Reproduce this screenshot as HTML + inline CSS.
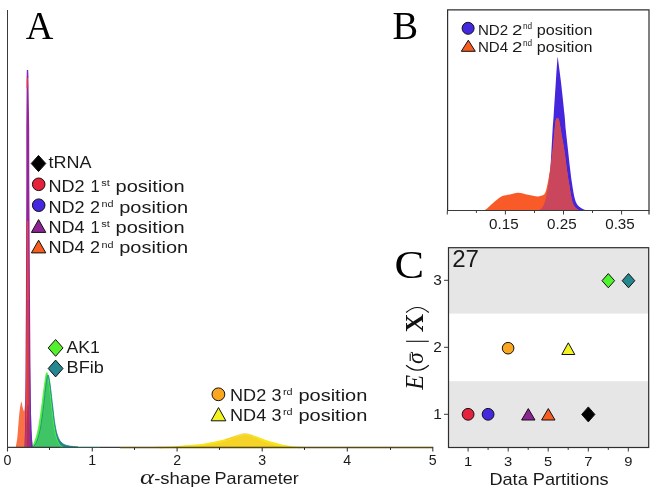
<!DOCTYPE html>
<html><head><meta charset="utf-8"><title>Figure</title>
<style>
html,body{margin:0;padding:0;background:#fff;}
body{width:654px;height:496px;overflow:hidden;font-family:"Liberation Sans",sans-serif;}
svg{display:block;}
</style></head><body>
<svg width="654" height="496" viewBox="0 0 654 496">
<defs><filter id="nofx" x="0" y="0" width="654" height="496" filterUnits="userSpaceOnUse" color-interpolation-filters="sRGB"><feOffset dx="0" dy="0"/></filter></defs>
<rect width="654" height="496" fill="#fff"/>
<g style="filter:url(#nofx)">
<path d="M150.00,447.00 C154.17,446.87 167.50,446.60 175.00,446.20 C182.50,445.80 189.83,445.10 195.00,444.60 C200.17,444.10 201.50,443.97 206.00,443.20 C210.50,442.43 217.33,441.10 222.00,440.00 C226.67,438.90 230.17,437.60 234.00,436.60 C237.83,435.60 241.33,434.07 245.00,434.00 C248.67,433.93 252.50,435.20 256.00,436.20 C259.50,437.20 262.00,438.70 266.00,440.00 C270.00,441.30 275.67,442.97 280.00,444.00 C284.33,445.03 287.67,445.70 292.00,446.20 C296.33,446.70 303.67,446.87 306.00,447.00 L306.00,447.5 L150.00,447.5 Z" fill="#f6e41c" fill-opacity="1" stroke="none" stroke-width="1"/>
<path d="M160.00,448.30 C164.17,448.18 178.33,447.93 185.00,447.60 C191.67,447.27 195.50,446.85 200.00,446.30 C204.50,445.75 207.67,445.20 212.00,444.30 C216.33,443.40 221.83,442.13 226.00,440.90 C230.17,439.67 233.83,437.90 237.00,436.90 C240.17,435.90 242.33,434.90 245.00,434.90 C247.67,434.90 250.17,435.90 253.00,436.90 C255.83,437.90 258.50,439.57 262.00,440.90 C265.50,442.23 270.00,443.83 274.00,444.90 C278.00,445.97 281.67,446.73 286.00,447.30 C290.33,447.87 297.67,448.13 300.00,448.30 L300.00,447.5 L160.00,447.5 Z" fill="#f5d328" fill-opacity="1" stroke="none" stroke-width="1"/>
<path d="M226.00,439.60 C227.83,438.93 233.83,436.60 237.00,435.60 C240.17,434.60 242.33,433.60 245.00,433.60 C247.67,433.60 251.67,435.27 253.00,435.60" fill="none" fill-opacity="1" stroke="#f7b62e" stroke-width="0.6"/>
<path d="M15.80,447.00 C16.08,445.17 16.93,441.33 17.50,436.00 C18.07,430.67 18.58,420.67 19.20,415.00 C19.82,409.33 20.63,403.33 21.20,402.00 C21.77,400.67 22.10,405.50 22.60,407.00 C23.10,408.50 23.75,412.17 24.20,411.00 C24.65,409.83 25.00,405.17 25.30,400.00 C25.60,394.83 25.88,383.33 26.00,380.00 L26.00,447.5 L15.80,447.5 Z" fill="#fa6a3a" fill-opacity="0.95" stroke="none" stroke-width="1"/>
<path d="M33.50,447.00 C34.08,446.00 35.83,444.17 37.00,441.00 C38.17,437.83 39.42,433.67 40.50,428.00 C41.58,422.33 42.58,414.17 43.50,407.00 C44.42,399.83 45.25,390.33 46.00,385.00 C46.75,379.67 47.33,375.17 48.00,375.00 C48.67,374.83 49.25,379.00 50.00,384.00 C50.75,389.00 51.67,398.17 52.50,405.00 C53.33,411.83 54.08,419.67 55.00,425.00 C55.92,430.33 56.83,434.00 58.00,437.00 C59.17,440.00 60.33,441.53 62.00,443.00 C63.67,444.47 65.33,445.13 68.00,445.80 C70.67,446.47 76.33,446.80 78.00,447.00 L78.00,447.5 L33.50,447.5 Z" fill="#25878f" fill-opacity="1" stroke="none" stroke-width="1"/>
<path d="M31.80,447.00 C32.33,446.00 33.88,444.17 35.00,441.00 C36.12,437.83 37.42,433.50 38.50,428.00 C39.58,422.50 40.50,415.17 41.50,408.00 C42.50,400.83 43.62,390.90 44.50,385.00 C45.38,379.10 46.05,372.77 46.80,372.60 C47.55,372.43 48.22,378.60 49.00,384.00 C49.78,389.40 50.67,398.00 51.50,405.00 C52.33,412.00 53.17,420.50 54.00,426.00 C54.83,431.50 55.58,434.92 56.50,438.00 C57.42,441.08 58.42,443.00 59.50,444.50 C60.58,446.00 62.42,446.58 63.00,447.00 L63.00,447.5 L31.80,447.5 Z" fill="#4bf03a" fill-opacity="1" stroke="none" stroke-width="1"/>
<path d="M34.40,447.00 C34.92,446.00 36.40,444.17 37.50,441.00 C38.60,437.83 39.92,433.67 41.00,428.00 C42.08,422.33 43.12,414.00 44.00,407.00 C44.88,400.00 45.70,391.00 46.30,386.00 C46.90,381.00 47.12,377.33 47.60,377.00 C48.08,376.67 48.52,379.33 49.20,384.00 C49.88,388.67 50.87,398.00 51.70,405.00 C52.53,412.00 53.37,420.50 54.20,426.00 C55.03,431.50 55.80,434.92 56.70,438.00 C57.60,441.08 58.55,443.00 59.60,444.50 C60.65,446.00 62.43,446.58 63.00,447.00 L63.00,447.5 L34.40,447.5 Z" fill="#3fc566" fill-opacity="1" stroke="none" stroke-width="1"/>
<path d="M31.80,447.00 C32.33,446.00 33.88,444.17 35.00,441.00 C36.12,437.83 37.42,433.50 38.50,428.00 C39.58,422.50 40.50,415.17 41.50,408.00 C42.50,400.83 43.62,390.90 44.50,385.00 C45.38,379.10 46.05,372.77 46.80,372.60 C47.55,372.43 48.22,378.60 49.00,384.00 C49.78,389.40 50.67,398.00 51.50,405.00 C52.33,412.00 53.17,420.50 54.00,426.00 C54.83,431.50 55.58,434.92 56.50,438.00 C57.42,441.08 58.42,443.00 59.50,444.50 C60.58,446.00 62.42,446.58 63.00,447.00" fill="none" fill-opacity="1" stroke="#4cf23a" stroke-width="0.9"/>
<path d="M33.50,447.00 C34.08,446.00 35.83,444.17 37.00,441.00 C38.17,437.83 39.42,433.67 40.50,428.00 C41.58,422.33 42.58,414.17 43.50,407.00 C44.42,399.83 45.25,390.33 46.00,385.00 C46.75,379.67 47.33,375.17 48.00,375.00 C48.67,374.83 49.25,379.00 50.00,384.00 C50.75,389.00 51.67,398.17 52.50,405.00 C53.33,411.83 54.08,419.67 55.00,425.00 C55.92,430.33 56.83,434.00 58.00,437.00 C59.17,440.00 60.33,441.53 62.00,443.00 C63.67,444.47 65.33,445.13 68.00,445.80 C70.67,446.47 76.33,446.80 78.00,447.00" fill="none" fill-opacity="1" stroke="#21868f" stroke-width="0.9"/>
<polygon points="24.4,447.5 25.0,430 25.3,400 25.9,300 26.3,180 26.3,128 26.7,80 26.9,70 28.1,70 28.4,80 29.2,128 29.3,180 30.0,300 30.7,400 31.4,430 32.6,447.5" fill="#94249a"/>
<polygon points="26.9,70 28.1,70 28.3,78 26.8,78" fill="#7a2cc0"/>
<polygon points="26.7,78 28.0,78 28.2,88 26.6,88" fill="#e0305a"/>
<polygon points="29.4,330 30.7,400 31.4,430 32.6,447.5 31.2,447.5 30.4,430 29.8,400" fill="#5a30c8"/>
<polygon points="25.2,447.5 25.7,430 25.9,400 26.0,365 26.6,300 26.9,221 28.2,221 28.9,300 29.3,365 29.5,400 29.7,430 29.4,447.5" fill="#e4443a"/>
<line x1="28.0" y1="300" x2="28.3" y2="447.5" stroke="#b03868" stroke-width="0.8"/>
<polygon points="26.4,447.5 26.6,425 27.6,405 28.6,405 29.7,425 30.4,447.5" fill="#a8306a"/>
<line x1="7.5" y1="10" x2="7.5" y2="448" stroke="#3a3a3a" stroke-width="1"/>
<line x1="7" y1="447.4" x2="433.3" y2="447.4" stroke="#3a3a3a" stroke-width="1.25"/>
<line x1="120" y1="447.5" x2="433" y2="447.5" stroke="#5a4a08" stroke-width="1.25"/>
<line x1="60" y1="447.5" x2="100" y2="447.5" stroke="#2a5a50" stroke-width="1"/>
<line x1="7.5" y1="447.5" x2="7.5" y2="451.5" stroke="#3a3a3a" stroke-width="1.1"/>
<line x1="92.3" y1="447.5" x2="92.3" y2="451.5" stroke="#3a3a3a" stroke-width="1.1"/>
<line x1="177.1" y1="447.5" x2="177.1" y2="451.5" stroke="#3a3a3a" stroke-width="1.1"/>
<line x1="262.2" y1="447.5" x2="262.2" y2="451.5" stroke="#3a3a3a" stroke-width="1.1"/>
<line x1="347.3" y1="447.5" x2="347.3" y2="451.5" stroke="#3a3a3a" stroke-width="1.1"/>
<line x1="432.8" y1="447.5" x2="432.8" y2="451.5" stroke="#3a3a3a" stroke-width="1.1"/>
<line x1="49.5" y1="447.5" x2="49.5" y2="449.9" stroke="#222" stroke-width="1"/>
<line x1="134.5" y1="447.5" x2="134.5" y2="449.9" stroke="#222" stroke-width="1"/>
<line x1="219.5" y1="447.5" x2="219.5" y2="449.9" stroke="#222" stroke-width="1"/>
<line x1="304.5" y1="447.5" x2="304.5" y2="449.9" stroke="#222" stroke-width="1"/>
<line x1="390.5" y1="447.5" x2="390.5" y2="449.9" stroke="#222" stroke-width="1"/>
<text x="7.5" y="465.3" font-family="Liberation Sans" font-size="13.8" text-anchor="middle" fill="#1a1a1a" textLength="7.9" lengthAdjust="spacingAndGlyphs" >0</text>
<text x="92.3" y="465.3" font-family="Liberation Sans" font-size="13.8" text-anchor="middle" fill="#1a1a1a" textLength="7.9" lengthAdjust="spacingAndGlyphs" >1</text>
<text x="177.1" y="465.3" font-family="Liberation Sans" font-size="13.8" text-anchor="middle" fill="#1a1a1a" textLength="7.9" lengthAdjust="spacingAndGlyphs" >2</text>
<text x="262.2" y="465.3" font-family="Liberation Sans" font-size="13.8" text-anchor="middle" fill="#1a1a1a" textLength="7.9" lengthAdjust="spacingAndGlyphs" >3</text>
<text x="347.3" y="465.3" font-family="Liberation Sans" font-size="13.8" text-anchor="middle" fill="#1a1a1a" textLength="7.9" lengthAdjust="spacingAndGlyphs" >4</text>
<text x="432.8" y="465.3" font-family="Liberation Sans" font-size="13.8" text-anchor="middle" fill="#1a1a1a" textLength="7.9" lengthAdjust="spacingAndGlyphs" >5</text>
<text x="140" y="484.4" font-family="Liberation Serif" font-size="21" text-anchor="start" fill="#1a1a1a" textLength="14" lengthAdjust="spacingAndGlyphs" font-style="italic">α</text>
<text x="154.2" y="484.4" font-family="Liberation Sans" font-size="16.5" text-anchor="start" fill="#1a1a1a" textLength="56.5" lengthAdjust="spacingAndGlyphs" >-shape</text>
<text x="214.6" y="484.4" font-family="Liberation Sans" font-size="16.5" text-anchor="start" fill="#1a1a1a" textLength="84.2" lengthAdjust="spacingAndGlyphs" >Parameter</text>
<text x="25.8" y="39" font-family="Liberation Serif" font-size="40.5" text-anchor="start" fill="#000" textLength="27.6" lengthAdjust="spacingAndGlyphs" >A</text>
<text x="392.6" y="38.7" font-family="Liberation Serif" font-size="39.8" text-anchor="start" fill="#000" textLength="25.6" lengthAdjust="spacingAndGlyphs" >B</text>
<text x="394.6" y="277.6" font-family="Liberation Serif" font-size="40" text-anchor="start" fill="#000" textLength="29.6" lengthAdjust="spacingAndGlyphs" >C</text>
<polygon points="31.2,163.5 38.5,155.4 45.8,163.5 38.5,171.6" fill="#000" stroke="#111" stroke-width="1"/>
<text x="48.6" y="167.7" font-family="Liberation Sans" font-size="16.2" text-anchor="start" fill="#1a1a1a" textLength="43" lengthAdjust="spacingAndGlyphs" >tRNA</text>
<circle cx="38.7" cy="184.3" r="6.3" fill="#e6213c" stroke="#111" stroke-width="1"/>
<circle cx="38.7" cy="205.2" r="6.3" fill="#4428e0" stroke="#111" stroke-width="1"/>
<polygon points="31.400000000000002,232.4 38.6,219.6 45.800000000000004,232.4" fill="#8e2494" stroke="#111" stroke-width="1"/>
<polygon points="31.400000000000002,252.9 38.6,240.2 45.800000000000004,252.9" fill="#f85c1e" stroke="#111" stroke-width="1"/>
<text x="48.4" y="192.3" font-family="Liberation Sans" font-size="16.2" text-anchor="start" fill="#1a1a1a" textLength="36.2" lengthAdjust="spacingAndGlyphs" >ND2</text>
<text x="90.6" y="192.3" font-family="Liberation Sans" font-size="16.2" text-anchor="start" fill="#1a1a1a" textLength="9.2" lengthAdjust="spacingAndGlyphs" >1</text>
<text x="101.2" y="186.4" font-family="Liberation Sans" font-size="9.6" text-anchor="start" fill="#1a1a1a" textLength="8.6" lengthAdjust="spacingAndGlyphs" >st</text>
<text x="115.6" y="192.3" font-family="Liberation Sans" font-size="16.2" text-anchor="start" fill="#1a1a1a" textLength="69" lengthAdjust="spacingAndGlyphs" >position</text>
<text x="48.4" y="212.5" font-family="Liberation Sans" font-size="16.2" text-anchor="start" fill="#1a1a1a" textLength="36.2" lengthAdjust="spacingAndGlyphs" >ND2</text>
<text x="90.0" y="212.5" font-family="Liberation Sans" font-size="16.2" text-anchor="start" fill="#1a1a1a" textLength="10" lengthAdjust="spacingAndGlyphs" >2</text>
<text x="101.4" y="206.6" font-family="Liberation Sans" font-size="9.6" text-anchor="start" fill="#1a1a1a" textLength="12" lengthAdjust="spacingAndGlyphs" >nd</text>
<text x="119.2" y="212.5" font-family="Liberation Sans" font-size="16.2" text-anchor="start" fill="#1a1a1a" textLength="69" lengthAdjust="spacingAndGlyphs" >position</text>
<text x="48.4" y="232.9" font-family="Liberation Sans" font-size="16.2" text-anchor="start" fill="#1a1a1a" textLength="36.2" lengthAdjust="spacingAndGlyphs" >ND4</text>
<text x="90.6" y="232.9" font-family="Liberation Sans" font-size="16.2" text-anchor="start" fill="#1a1a1a" textLength="9.2" lengthAdjust="spacingAndGlyphs" >1</text>
<text x="101.2" y="227.0" font-family="Liberation Sans" font-size="9.6" text-anchor="start" fill="#1a1a1a" textLength="8.6" lengthAdjust="spacingAndGlyphs" >st</text>
<text x="115.6" y="232.9" font-family="Liberation Sans" font-size="16.2" text-anchor="start" fill="#1a1a1a" textLength="69" lengthAdjust="spacingAndGlyphs" >position</text>
<text x="48.4" y="253.4" font-family="Liberation Sans" font-size="16.2" text-anchor="start" fill="#1a1a1a" textLength="36.2" lengthAdjust="spacingAndGlyphs" >ND4</text>
<text x="90.0" y="253.4" font-family="Liberation Sans" font-size="16.2" text-anchor="start" fill="#1a1a1a" textLength="10" lengthAdjust="spacingAndGlyphs" >2</text>
<text x="101.4" y="247.5" font-family="Liberation Sans" font-size="9.6" text-anchor="start" fill="#1a1a1a" textLength="12" lengthAdjust="spacingAndGlyphs" >nd</text>
<text x="119.2" y="253.4" font-family="Liberation Sans" font-size="16.2" text-anchor="start" fill="#1a1a1a" textLength="69" lengthAdjust="spacingAndGlyphs" >position</text>
<polygon points="48.2,347.9 55.6,339.5 63.0,347.9 55.6,356.29999999999995" fill="#55f02d" stroke="#111" stroke-width="1"/>
<polygon points="48.2,368.5 55.6,360.1 63.0,368.5 55.6,376.9" fill="#25878f" stroke="#111" stroke-width="1"/>
<text x="66.4" y="353" font-family="Liberation Sans" font-size="16.6" text-anchor="start" fill="#1a1a1a" textLength="33.4" lengthAdjust="spacingAndGlyphs" >AK1</text>
<text x="66.6" y="373.4" font-family="Liberation Sans" font-size="16.6" text-anchor="start" fill="#1a1a1a" textLength="37.2" lengthAdjust="spacingAndGlyphs" >BFib</text>
<circle cx="218.4" cy="394.3" r="6.4" fill="#faa61e" stroke="#111" stroke-width="1"/>
<polygon points="211.1,420.8 218.5,407.6 225.9,420.8" fill="#f3f321" stroke="#111" stroke-width="1"/>
<text x="230" y="401.3" font-family="Liberation Sans" font-size="16.2" text-anchor="start" fill="#1a1a1a" textLength="36.2" lengthAdjust="spacingAndGlyphs" >ND2</text>
<text x="271.6" y="401.3" font-family="Liberation Sans" font-size="16.2" text-anchor="start" fill="#1a1a1a" textLength="10" lengthAdjust="spacingAndGlyphs" >3</text>
<text x="283" y="395.40000000000003" font-family="Liberation Sans" font-size="9.6" text-anchor="start" fill="#1a1a1a" textLength="9.6" lengthAdjust="spacingAndGlyphs" >rd</text>
<text x="298.4" y="401.3" font-family="Liberation Sans" font-size="16.2" text-anchor="start" fill="#1a1a1a" textLength="69" lengthAdjust="spacingAndGlyphs" >position</text>
<text x="230" y="421.2" font-family="Liberation Sans" font-size="16.2" text-anchor="start" fill="#1a1a1a" textLength="36.2" lengthAdjust="spacingAndGlyphs" >ND4</text>
<text x="271.6" y="421.2" font-family="Liberation Sans" font-size="16.2" text-anchor="start" fill="#1a1a1a" textLength="10" lengthAdjust="spacingAndGlyphs" >3</text>
<text x="283" y="415.3" font-family="Liberation Sans" font-size="9.6" text-anchor="start" fill="#1a1a1a" textLength="9.6" lengthAdjust="spacingAndGlyphs" >rd</text>
<text x="298.4" y="421.2" font-family="Liberation Sans" font-size="16.2" text-anchor="start" fill="#1a1a1a" textLength="69" lengthAdjust="spacingAndGlyphs" >position</text>
<path d="M538.50,210.50 C539.08,210.05 540.98,209.13 542.00,207.80 C543.02,206.47 543.83,204.63 544.60,202.50 C545.37,200.37 546.00,197.75 546.60,195.00 C547.20,192.25 547.73,189.00 548.20,186.00 C548.67,183.00 549.00,180.50 549.40,177.00 C549.80,173.50 550.23,169.83 550.60,165.00 C550.97,160.17 551.27,153.83 551.60,148.00 C551.93,142.17 552.25,135.58 552.60,130.00 C552.95,124.42 553.17,122.45 553.70,114.50 C554.23,106.55 555.25,90.72 555.80,82.30 C556.35,73.88 556.68,68.17 557.00,64.00 C557.32,59.83 557.45,57.47 557.70,57.30 C557.95,57.13 557.95,58.83 558.50,63.00 C559.05,67.17 560.00,73.72 561.00,82.30 C562.00,90.88 563.70,106.55 564.50,114.50 C565.30,122.45 565.22,124.08 565.80,130.00 C566.38,135.92 567.30,143.67 568.00,150.00 C568.70,156.33 569.33,162.45 570.00,168.00 C570.67,173.55 571.17,178.05 572.00,183.30 C572.83,188.55 573.83,195.63 575.00,199.50 C576.17,203.37 577.17,204.67 579.00,206.50 C580.83,208.33 584.83,209.83 586.00,210.50 L586.00,210.5 L538.50,210.5 Z" fill="#4526dc" fill-opacity="1" stroke="none" stroke-width="1"/>
<path d="M483.20,210.50 C483.75,210.25 485.37,209.78 486.50,209.00 C487.63,208.22 488.42,207.20 490.00,205.80 C491.58,204.40 493.95,202.22 496.00,200.60 C498.05,198.98 499.97,197.13 502.30,196.10 C504.63,195.07 507.35,194.97 510.00,194.40 C512.65,193.83 515.20,192.63 518.20,192.70 C521.20,192.77 524.80,194.18 528.00,194.80 C531.20,195.42 535.07,196.27 537.40,196.40 C539.73,196.53 540.73,196.13 542.00,195.60 C543.27,195.07 544.18,194.63 545.00,193.20 C545.82,191.77 546.35,189.20 546.90,187.00 C547.45,184.80 547.78,182.83 548.30,180.00 C548.82,177.17 549.27,175.00 550.00,170.00 C550.73,165.00 551.87,157.33 552.70,150.00 C553.53,142.67 554.42,131.17 555.00,126.00 C555.58,120.83 555.78,120.33 556.20,119.00 C556.62,117.67 557.05,117.93 557.50,118.00 C557.95,118.07 558.45,118.07 558.90,119.40 C559.35,120.73 559.68,123.07 560.20,126.00 C560.72,128.93 561.32,133.00 562.00,137.00 C562.68,141.00 563.52,144.83 564.30,150.00 C565.08,155.17 565.92,162.45 566.70,168.00 C567.48,173.55 568.17,178.13 569.00,183.30 C569.83,188.47 570.78,195.13 571.70,199.00 C572.62,202.87 573.28,204.58 574.50,206.50 C575.72,208.42 578.25,209.83 579.00,210.50 L579.00,210.5 L483.20,210.5 Z" fill="#f85a28" fill-opacity="1" stroke="none" stroke-width="1"/>
<clipPath id="cb"><path d="M538.50,210.50 C539.08,210.05 540.98,209.13 542.00,207.80 C543.02,206.47 543.83,204.63 544.60,202.50 C545.37,200.37 546.00,197.75 546.60,195.00 C547.20,192.25 547.73,189.00 548.20,186.00 C548.67,183.00 549.00,180.50 549.40,177.00 C549.80,173.50 550.23,169.83 550.60,165.00 C550.97,160.17 551.27,153.83 551.60,148.00 C551.93,142.17 552.25,135.58 552.60,130.00 C552.95,124.42 553.17,122.45 553.70,114.50 C554.23,106.55 555.25,90.72 555.80,82.30 C556.35,73.88 556.68,68.17 557.00,64.00 C557.32,59.83 557.45,57.47 557.70,57.30 C557.95,57.13 557.95,58.83 558.50,63.00 C559.05,67.17 560.00,73.72 561.00,82.30 C562.00,90.88 563.70,106.55 564.50,114.50 C565.30,122.45 565.22,124.08 565.80,130.00 C566.38,135.92 567.30,143.67 568.00,150.00 C568.70,156.33 569.33,162.45 570.00,168.00 C570.67,173.55 571.17,178.05 572.00,183.30 C572.83,188.55 573.83,195.63 575.00,199.50 C576.17,203.37 577.17,204.67 579.00,206.50 C580.83,208.33 584.83,209.83 586.00,210.50 L586.00,210.5 L538.50,210.5 Z"/></clipPath>
<g clip-path="url(#cb)">
<path d="M483.20,210.50 C483.75,210.25 485.37,209.78 486.50,209.00 C487.63,208.22 488.42,207.20 490.00,205.80 C491.58,204.40 493.95,202.22 496.00,200.60 C498.05,198.98 499.97,197.13 502.30,196.10 C504.63,195.07 507.35,194.97 510.00,194.40 C512.65,193.83 515.20,192.63 518.20,192.70 C521.20,192.77 524.80,194.18 528.00,194.80 C531.20,195.42 535.07,196.27 537.40,196.40 C539.73,196.53 540.73,196.13 542.00,195.60 C543.27,195.07 544.18,194.63 545.00,193.20 C545.82,191.77 546.35,189.20 546.90,187.00 C547.45,184.80 547.78,182.83 548.30,180.00 C548.82,177.17 549.27,175.00 550.00,170.00 C550.73,165.00 551.87,157.33 552.70,150.00 C553.53,142.67 554.42,131.17 555.00,126.00 C555.58,120.83 555.78,120.33 556.20,119.00 C556.62,117.67 557.05,117.93 557.50,118.00 C557.95,118.07 558.45,118.07 558.90,119.40 C559.35,120.73 559.68,123.07 560.20,126.00 C560.72,128.93 561.32,133.00 562.00,137.00 C562.68,141.00 563.52,144.83 564.30,150.00 C565.08,155.17 565.92,162.45 566.70,168.00 C567.48,173.55 568.17,178.13 569.00,183.30 C569.83,188.47 570.78,195.13 571.70,199.00 C572.62,202.87 573.28,204.58 574.50,206.50 C575.72,208.42 578.25,209.83 579.00,210.50 L579.00,210.5 L483.20,210.5 Z" fill="#c9465c" fill-opacity="1" stroke="none" stroke-width="1"/>
</g>
<polyline points="447.6,210.5 447.6,9.8 649,9.8 649,214.5" fill="none" stroke="#2e2e2e" stroke-width="1.2"/>
<line x1="447" y1="210.5" x2="649.5" y2="210.5" stroke="#3a3a3a" stroke-width="1"/>
<line x1="447.3" y1="210.5" x2="447.3" y2="214.5" stroke="#3a3a3a" stroke-width="1"/>
<line x1="476.4" y1="210.5" x2="476.4" y2="212.9" stroke="#3a3a3a" stroke-width="1"/>
<line x1="505.4" y1="210.5" x2="505.4" y2="214.5" stroke="#3a3a3a" stroke-width="1"/>
<line x1="534.5" y1="210.5" x2="534.5" y2="212.9" stroke="#3a3a3a" stroke-width="1"/>
<line x1="563.5" y1="210.5" x2="563.5" y2="214.5" stroke="#3a3a3a" stroke-width="1"/>
<line x1="592.5" y1="210.5" x2="592.5" y2="212.9" stroke="#3a3a3a" stroke-width="1"/>
<line x1="621.6" y1="210.5" x2="621.6" y2="214.5" stroke="#3a3a3a" stroke-width="1"/>
<text x="503.8" y="229.4" font-family="Liberation Sans" font-size="14.3" text-anchor="middle" fill="#1a1a1a" textLength="29.6" lengthAdjust="spacingAndGlyphs" >0.15</text>
<text x="561.9" y="229.4" font-family="Liberation Sans" font-size="14.3" text-anchor="middle" fill="#1a1a1a" textLength="29.6" lengthAdjust="spacingAndGlyphs" >0.25</text>
<text x="620.0" y="229.4" font-family="Liberation Sans" font-size="14.3" text-anchor="middle" fill="#1a1a1a" textLength="29.6" lengthAdjust="spacingAndGlyphs" >0.35</text>
<circle cx="468.1" cy="28.3" r="6.0" fill="#4428e0" stroke="#111" stroke-width="1"/>
<polygon points="461.3,51.3 468.3,40.2 475.3,51.3" fill="#f85c1e" stroke="#111" stroke-width="1"/>
<text x="477.9" y="34.5" font-family="Liberation Sans" font-size="13.9" text-anchor="start" fill="#1a1a1a" textLength="30.2" lengthAdjust="spacingAndGlyphs" >ND2</text>
<text x="512.0" y="34.5" font-family="Liberation Sans" font-size="13.9" text-anchor="start" fill="#1a1a1a" textLength="10.4" lengthAdjust="spacingAndGlyphs" >2</text>
<text x="523.0" y="29.0" font-family="Liberation Sans" font-size="8.4" text-anchor="start" fill="#1a1a1a" textLength="9.2" lengthAdjust="spacingAndGlyphs" >nd</text>
<text x="536.8" y="34.5" font-family="Liberation Sans" font-size="13.9" text-anchor="start" fill="#1a1a1a" textLength="55.6" lengthAdjust="spacingAndGlyphs" >position</text>
<text x="477.9" y="51.8" font-family="Liberation Sans" font-size="13.9" text-anchor="start" fill="#1a1a1a" textLength="30.2" lengthAdjust="spacingAndGlyphs" >ND4</text>
<text x="512.0" y="51.8" font-family="Liberation Sans" font-size="13.9" text-anchor="start" fill="#1a1a1a" textLength="10.4" lengthAdjust="spacingAndGlyphs" >2</text>
<text x="523.0" y="46.3" font-family="Liberation Sans" font-size="8.4" text-anchor="start" fill="#1a1a1a" textLength="9.2" lengthAdjust="spacingAndGlyphs" >nd</text>
<text x="536.8" y="51.8" font-family="Liberation Sans" font-size="13.9" text-anchor="start" fill="#1a1a1a" textLength="55.6" lengthAdjust="spacingAndGlyphs" >position</text>
<rect x="448.5" y="247.7" width="200" height="199.8" fill="#e6e6e6"/>
<rect x="448.5" y="313.6" width="200" height="67.6" fill="#fff"/>
<rect x="448.5" y="247.7" width="200.2" height="199.8" fill="none" stroke="#2e2e2e" stroke-width="1.2"/>
<line x1="468.1" y1="447.5" x2="468.1" y2="451.5" stroke="#3a3a3a" stroke-width="1"/>
<text x="468.1" y="466" font-family="Liberation Sans" font-size="13.5" text-anchor="middle" fill="#1a1a1a" textLength="8.2" lengthAdjust="spacingAndGlyphs" >1</text>
<line x1="488.1" y1="447.5" x2="488.1" y2="449.9" stroke="#3a3a3a" stroke-width="1"/>
<line x1="508.2" y1="447.5" x2="508.2" y2="451.5" stroke="#3a3a3a" stroke-width="1"/>
<text x="508.16" y="466" font-family="Liberation Sans" font-size="13.5" text-anchor="middle" fill="#1a1a1a" textLength="8.2" lengthAdjust="spacingAndGlyphs" >3</text>
<line x1="528.2" y1="447.5" x2="528.2" y2="449.9" stroke="#3a3a3a" stroke-width="1"/>
<line x1="548.2" y1="447.5" x2="548.2" y2="451.5" stroke="#3a3a3a" stroke-width="1"/>
<text x="548.22" y="466" font-family="Liberation Sans" font-size="13.5" text-anchor="middle" fill="#1a1a1a" textLength="8.2" lengthAdjust="spacingAndGlyphs" >5</text>
<line x1="568.2" y1="447.5" x2="568.2" y2="449.9" stroke="#3a3a3a" stroke-width="1"/>
<line x1="588.3" y1="447.5" x2="588.3" y2="451.5" stroke="#3a3a3a" stroke-width="1"/>
<text x="588.28" y="466" font-family="Liberation Sans" font-size="13.5" text-anchor="middle" fill="#1a1a1a" textLength="8.2" lengthAdjust="spacingAndGlyphs" >7</text>
<line x1="608.3" y1="447.5" x2="608.3" y2="449.9" stroke="#3a3a3a" stroke-width="1"/>
<line x1="628.3" y1="447.5" x2="628.3" y2="451.5" stroke="#3a3a3a" stroke-width="1"/>
<text x="628.34" y="466" font-family="Liberation Sans" font-size="13.5" text-anchor="middle" fill="#1a1a1a" textLength="8.2" lengthAdjust="spacingAndGlyphs" >9</text>
<line x1="444" y1="280.3" x2="448.5" y2="280.3" stroke="#3a3a3a" stroke-width="1"/>
<text x="441.8" y="285.3" font-family="Liberation Sans" font-size="13.8" text-anchor="end" fill="#1a1a1a" textLength="8.6" lengthAdjust="spacingAndGlyphs" >3</text>
<line x1="444" y1="347.3" x2="448.5" y2="347.3" stroke="#3a3a3a" stroke-width="1"/>
<text x="441.8" y="352.3" font-family="Liberation Sans" font-size="13.8" text-anchor="end" fill="#1a1a1a" textLength="8.6" lengthAdjust="spacingAndGlyphs" >2</text>
<line x1="444" y1="414.3" x2="448.5" y2="414.3" stroke="#3a3a3a" stroke-width="1"/>
<text x="441.8" y="419.3" font-family="Liberation Sans" font-size="13.8" text-anchor="end" fill="#1a1a1a" textLength="8.6" lengthAdjust="spacingAndGlyphs" >1</text>
<text x="452.2" y="267.4" font-family="Liberation Sans" font-size="24.1" text-anchor="start" fill="#1a1a1a" >27</text>
<text x="489.4" y="484.8" font-family="Liberation Sans" font-size="17" text-anchor="start" fill="#1a1a1a" textLength="119.2" lengthAdjust="spacingAndGlyphs" >Data Partitions</text>
<circle cx="468.1" cy="414.3" r="5.9" fill="#e6213c" stroke="#111" stroke-width="1"/>
<circle cx="488.1" cy="414.3" r="5.9" fill="#4428e0" stroke="#111" stroke-width="1"/>
<polygon points="521.5999999999999,420.0 528.3,408.6 535.0,420.0" fill="#8e2494" stroke="#111" stroke-width="1"/>
<polygon points="541.5999999999999,420.0 548.3,408.6 555.0,420.0" fill="#f85c1e" stroke="#111" stroke-width="1"/>
<polygon points="581.6999999999999,414.4 588.3,406.9 594.9,414.4 588.3,421.9" fill="#000" stroke="#111" stroke-width="1"/>
<circle cx="508.1" cy="348.2" r="5.8" fill="#faa61e" stroke="#111" stroke-width="1"/>
<polygon points="561.8,354.5 568.3,342.8 574.8,354.5" fill="#f3f321" stroke="#111" stroke-width="1"/>
<polygon points="602.0,280.7 608.3,273.59999999999997 614.5999999999999,280.7 608.3,287.8" fill="#4ff52c" stroke="#111" stroke-width="1"/>
<polygon points="622.2,280.7 628.5,273.59999999999997 634.8,280.7 628.5,287.8" fill="#25878f" stroke="#111" stroke-width="1"/>
<g transform="translate(423.3,390) rotate(-90)">
<text x="0.2" y="0" font-family="Liberation Serif" font-size="24.3" text-anchor="start" fill="#111" font-style="italic">E</text>
<path d="M24.8,-17.2 Q14.8,-5.85 24.8,5.5" fill="none" stroke="#111" stroke-width="1.15"/>
<text x="26.0" y="0" font-family="Liberation Serif" font-size="24" text-anchor="start" fill="#111" textLength="11.6" lengthAdjust="spacingAndGlyphs" font-style="italic">σ</text>
<line x1="28.9" y1="-13.1" x2="36.4" y2="-13.1" stroke="#111" stroke-width="1.1"/>
<line x1="48.7" y1="-17.2" x2="48.7" y2="5.5" stroke="#111" stroke-width="1.1"/>
<text x="57.8" y="0" font-family="Liberation Serif" font-size="24.3" text-anchor="start" fill="#111" textLength="18.4" lengthAdjust="spacingAndGlyphs" font-weight="bold">X</text>
<path d="M77.5,-17.2 Q87.5,-5.85 77.5,5.5" fill="none" stroke="#111" stroke-width="1.15"/>
</g>
</g>
</svg>
</body></html>
